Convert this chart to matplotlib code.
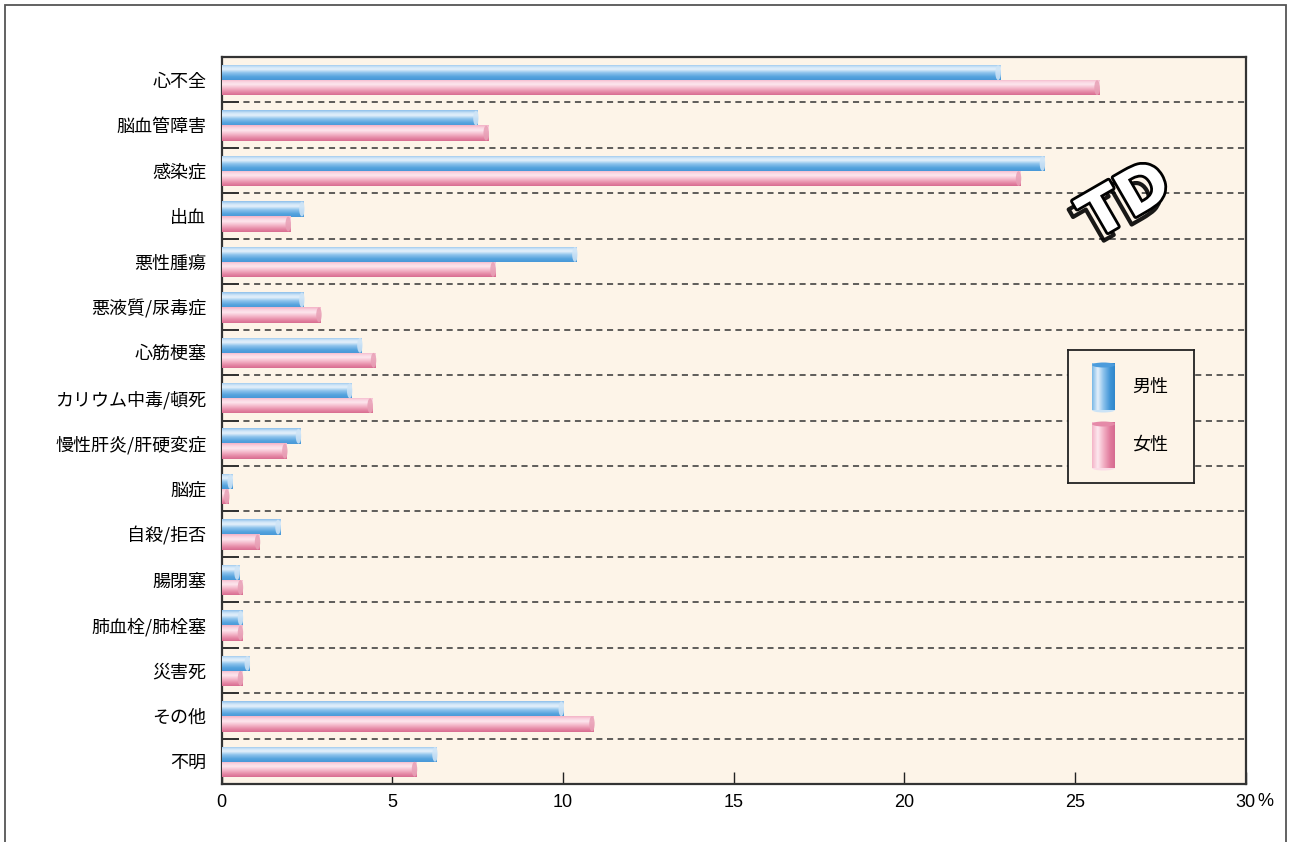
import numpy as np
import matplotlib
matplotlib.use("Agg")
import matplotlib.pyplot as plt
from matplotlib.patches import Rectangle, Ellipse
import matplotlib.patheffects as pe

plt.rcParams['font.family'] = ['Noto Sans CJK JP', 'DejaVu Sans']

categories = ["心不全", "脳血管障害", "感染症", "出血", "悪性腫瘍", "悪液質/尿毒症",
              "心筋梗塞", "カリウム中毒/頓死", "慢性肝炎/肝硬変症", "脳症", "自殺/拒否",
              "腸閉塞", "肺血栓/肺栓塞", "災害死", "その他", "不明"]
male = [22.8, 7.5, 24.1, 2.4, 10.4, 2.4, 4.1, 3.8, 2.3, 0.3, 1.7, 0.5, 0.6, 0.8, 10.0, 6.3]
female = [25.7, 7.8, 23.4, 2.0, 8.0, 2.9, 4.5, 4.4, 1.9, 0.2, 1.1, 0.6, 0.6, 0.6, 10.9, 5.7]
series_labels = ["男性", "女性"]
xticks = [0, 5, 10, 15, 20, 25, 30]
unit_label = "%"

W, H = 1292, 842
fig = plt.figure(figsize=(W / 100, H / 100), dpi=100)
fig.patch.set_facecolor("white")

# outer frame
fig.patches.append(Rectangle((5 / W, -0.05), 1281 / W, 1.05 - 5 / H, transform=fig.transFigure,
                             fill=False, edgecolor="#555555", linewidth=1.3))

ax = fig.add_axes([221.7 / W, 1 - 784 / H, (1245.5 - 221.7) / W, (784 - 57) / H])
ax.set_facecolor("#fdf4e8")

n = len(categories)
y = np.arange(n)
h = 0.34
male_off, female_off = -0.155, 0.175


def grad_colors(stops, N=64):
    pos = np.array([s[0] for s in stops])
    cols = np.array([matplotlib.colors.to_rgb(s[1]) for s in stops])
    t = np.linspace(0, 1, N)
    out = np.zeros((N, 1, 3))
    for c in range(3):
        out[:, 0, c] = np.interp(t, pos, cols[:, c])
    return out


blue_stops = [(0.0, "#8cbfea"), (0.18, "#cfe5f8"), (0.33, "#e4f0fb"), (0.55, "#8cc2ec"),
              (0.8, "#55a3de"), (1.0, "#4898d8")]
pink_stops = [(0.0, "#f4b2c6"), (0.18, "#fad6e2"), (0.33, "#fde6ee"), (0.55, "#f5bccd"),
              (0.8, "#e68aa7"), (1.0, "#d86d91")]
blue_g = grad_colors(blue_stops)
pink_g = grad_colors(pink_stops)

for vals, off, g, base, cap in [(male, male_off, blue_g, "#6aaee2", "#cfe4f6"),
                                (female, female_off, pink_g, "#ee9fb6", "#e8a0b6")]:
    bars = ax.barh(y + off, vals, height=h, color=base, linewidth=0, zorder=3)
    for b, v, yy in zip(bars, vals, y + off):
        im = ax.imshow(g, extent=(0, v, yy + h / 2, yy - h / 2), aspect="auto",
                       origin="upper", zorder=3.5, interpolation="bilinear")
        im.set_clip_path(b)
        ax.add_patch(Ellipse((v - 0.05, yy), 0.16, h * 0.96, facecolor=cap,
                             edgecolor="none", zorder=3.8, alpha=0.85))

# dashed separators
for b in np.arange(0.5, n - 0.5, 1):
    ax.axhline(b, color="#333333", linestyle=(0, (4, 3)), linewidth=1.1, zorder=2)

ax.set_xlim(0, 30)
ax.set_ylim(n - 0.5, -0.5)
ax.set_xticks(xticks)
ax.set_xticklabels([str(t) for t in xticks], fontsize=13, family="Liberation Sans")
ax.set_yticks(y)
ax.set_yticklabels(categories, fontsize=13)
ax.set_yticks(np.arange(0.5, n - 0.5, 1), minor=True)
ax.tick_params(axis="y", which="major", length=0, pad=11)
ax.tick_params(axis="y", which="minor", direction="in", length=12, width=1.3, color="#222222")
ax.tick_params(axis="x", which="major", direction="in", length=9, width=1.0, pad=7,
               color="#222222")
for s in ax.spines.values():
    s.set_color("#333333")
    s.set_linewidth(1.6)

ax.annotate(unit_label, xy=(1, 0), xycoords="axes fraction", xytext=(8.5, -12.5),
            textcoords="offset points", fontsize=13, family="Liberation Sans",
            va="center", ha="left")

# logo (approximation of the 3D "TD" mark)
ax.text(0.884, 0.80, "TD", transform=ax.transAxes, fontsize=44, fontweight="heavy",
        family="DejaVu Sans", color="white", ha="center", va="center", rotation=30,
        zorder=6,
        path_effects=[pe.SimpleLineShadow(offset=(-3, -6), shadow_color="black",
                                          alpha=0.9, linewidth=3),
                      pe.Stroke(linewidth=4, foreground="black"), pe.Normal()])

# legend
lax = fig.add_axes([1068 / W, 1 - 483 / H, 126 / W, 133 / H], zorder=10)
lax.set_facecolor("#fdf4e8")
lax.set_xticks([])
lax.set_yticks([])
for s in lax.spines.values():
    s.set_color("#222222")
    s.set_linewidth(1.3)

blue_h = grad_colors([(0.0, "#7ab8e6"), (0.25, "#e4f0fb"), (0.5, "#8cc2ec"),
                      (0.8, "#3f94d6"), (1.0, "#2f86cc")]).transpose(1, 0, 2)
pink_h = grad_colors([(0.0, "#f4b4c8"), (0.25, "#fde8ef"), (0.5, "#f3b2c6"),
                      (0.8, "#e07a9c"), (1.0, "#d66a90")]).transpose(1, 0, 2)
for (top, bot), gimg, capc, lab, ty in [((120, 73), blue_h, "#4c9cdc", series_labels[0], 96),
                                        ((61, 15), pink_h, "#e58aa8", series_labels[1], 38)]:
    lax.imshow(gimg, extent=(24, 47, bot, top), aspect="auto", zorder=2,
               interpolation="bilinear")
    lax.add_patch(Ellipse((35.5, top - 2), 23, 5, facecolor=capc, edgecolor="none", zorder=3))
    lax.add_patch(Ellipse((35.5, bot), 23, 5, facecolor=gimg[0, 12], edgecolor="none",
                          zorder=1.5))
    lax.text(64, ty, lab, fontsize=13, va="center", ha="left")
lax.set_xlim(0, 126)
lax.set_ylim(0, 133)

fig.savefig("out.png", dpi=100)
